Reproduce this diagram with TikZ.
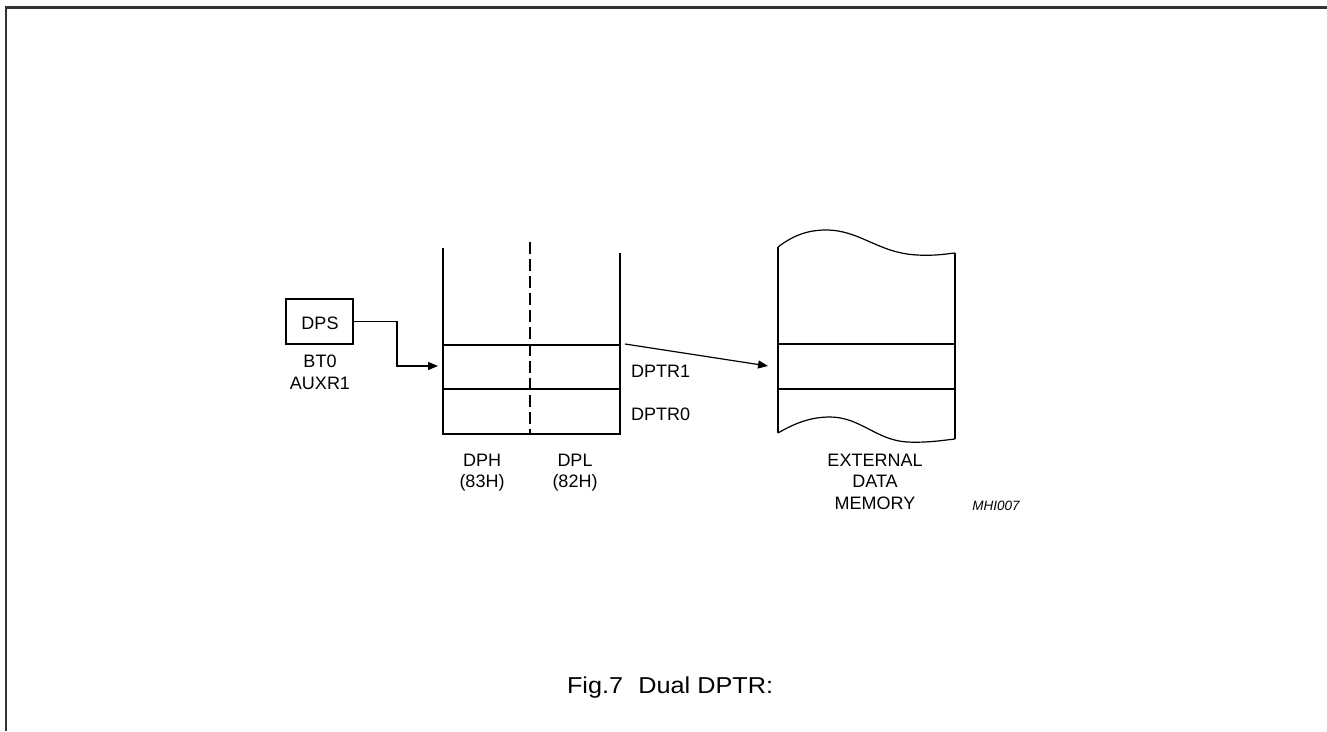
\documentclass[tikz,border=0pt]{standalone}
\usepackage{fontspec}
\usepackage{graphicx}
\setmainfont{Liberation Sans}
\usetikzlibrary{arrows.meta}
\begin{document}
\begin{tikzpicture}[x=1pt,y=-1pt,
  every node/.style={inner sep=0pt,outer sep=0pt},
  lbl/.style={font=\fontsize{18}{21.5}\selectfont,anchor=base},
  mlbl/.style={font=\fontsize{18}{21.5}\selectfont,align=center,anchor=north},
  wire/.style={line width=1.2pt,black},
  arr/.style={wire,-{Triangle[length=10pt,width=8pt]}},
  frameline/.style={line width=2.2pt,black!80}]
\useasboundingbox (0,0) rectangle (1327,731);
% outer frame
\draw[frameline] (6,731) -- (6,7.5) -- (1327,7.5);
% DPS box
\node[draw,line width=1.2pt,minimum width=67pt,minimum height=45pt] (dps) at (319.5,321.5) {};
\node[lbl] (dpstxt) at (320,329) {DPS};
\node[mlbl] (bt0) at (320,355.1) {BT0\\AUXR1};
% register block
\coordinate (rTL) at (443,248);
\coordinate (rTR) at (620,253);
\coordinate (rBL) at (443,434);
\coordinate (rBR) at (620,434);
\coordinate (r1L) at (443,345);
\coordinate (r1R) at (620,345);
\coordinate (r0L) at (443,389);
\coordinate (r0R) at (620,389);
\coordinate (in1) at (438,366);
\draw[wire] (rTL) -- (rBL) -- (rBR) -- (rTR);
\draw[wire] (r1L) -- (r1R);
\draw[wire] (r0L) -- (r0R);
\draw[wire,dash pattern=on 12pt off 5pt] (530,242) -- (530,434);
% connector DPS -> register
\draw[arr] (dps.east) -- (397,321.5) |- (in1);
% labels
\node[lbl] (dph) at (482,466) {DPH};
\node[lbl] (dpl) at (575,466) {DPL};
\node[lbl] (h83) at (482,487) {(83H)};
\node[lbl] (h82) at (575,487) {(82H)};
\node[lbl,anchor=base west] (dptr1) at (631,377) {DPTR1};
\node[lbl,anchor=base west] (dptr0) at (631,420) {DPTR0};
% memory
\coordinate (mTL) at (778,247);
\coordinate (mTR) at (955,253);
\coordinate (mBL) at (778,433);
\coordinate (mBR) at (955,439);
\coordinate (m1L) at (778,344);
\coordinate (m1R) at (955,344);
\coordinate (m0L) at (778,389);
\coordinate (m0R) at (955,389);
\coordinate (aStart) at (625,344);
\coordinate (aEnd) at (768,366);
\draw[wire] (mTL) .. controls (795,234) and (810,230) .. (826,230)
  .. controls (860,230) and (878,253) .. (917,255)
  .. controls (935,256) and (945,254) .. (mTR);
\draw[wire] (mBL) .. controls (795,423) and (811,417) .. (830,417)
  .. controls (860,417) and (876,440) .. (907,442)
  .. controls (928,443) and (945,440) .. (mBR);
\draw[wire] (mTL) -- (mBL);
\draw[wire] (mTR) -- (mBR);
\draw[wire] (m1L) -- (m1R);
\draw[wire] (m0L) -- (m0R);
\draw[arr] (aStart) -- (aEnd);
\node[mlbl] (ext) at (875,454.1) {EXTERNAL\\DATA\\MEMORY};
\node[font=\fontsize{13.5}{16}\itshape,anchor=base] (mhi) at (996,510) {MHI007};
% caption
\node[font=\fontsize{23}{27}\selectfont,anchor=base west] (cap) at (567,693) {\scalebox{1.097}[1]{Fig.7\hspace{14pt}Dual DPTR:}};
\end{tikzpicture}
\end{document}
